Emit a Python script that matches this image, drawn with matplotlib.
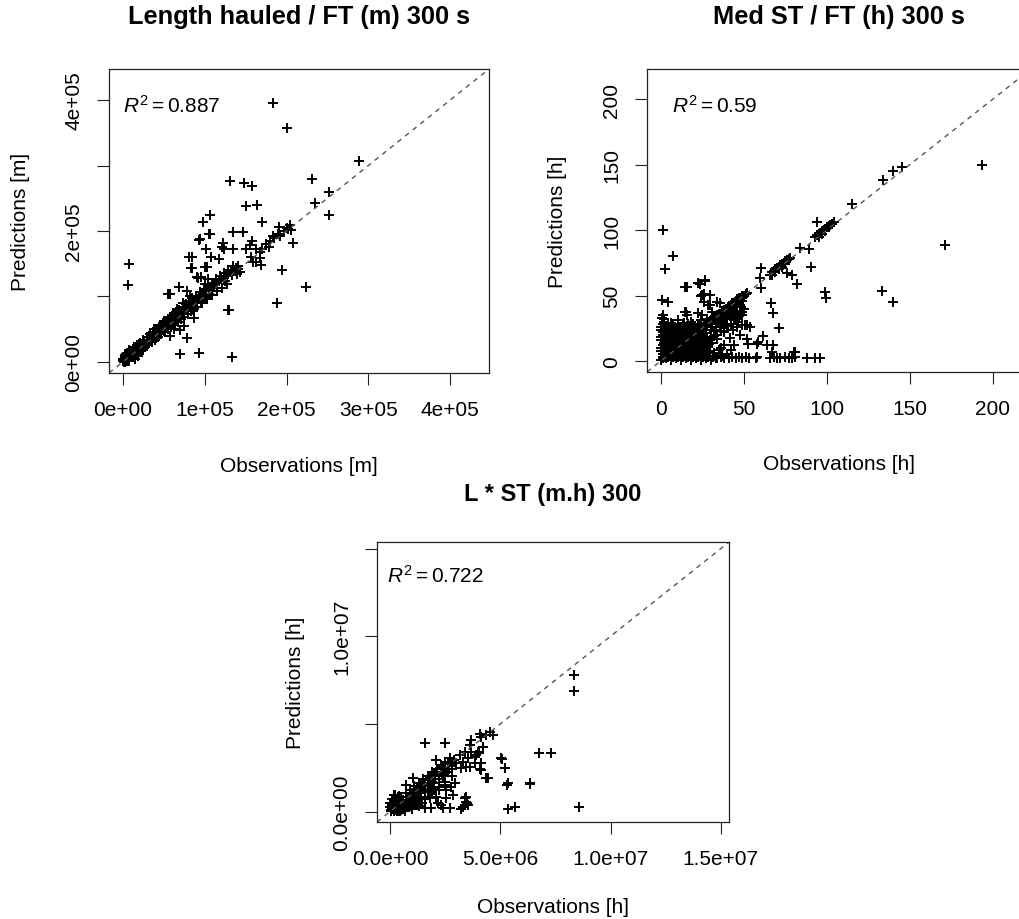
import numpy as np
import matplotlib
matplotlib.use('Agg')
import matplotlib.pyplot as plt

# Fuentes tipo Arial, R en cursiva para el texto R^2
plt.rcParams['font.family'] = ['Liberation Sans', 'DejaVu Sans']
plt.rcParams['mathtext.fontset'] = 'custom'
plt.rcParams['mathtext.rm'] = 'Liberation Sans'
plt.rcParams['mathtext.it'] = 'Liberation Sans:italic'

# ---------------- Longitud arrastrada (km, se pasa a m) ----------------
len_obs_km = [
    0, 1, 2, 3, 4, 5, 6, 7, 8, 9, 10, 11, 12, 13, 14, 15, 16, 17, 18, 19, 20, 22, 24, 26, 28, 30,
    3, 8, 12, 5, 18, 2, 10, 25, 20, 15, 1, 6, 4, 9, 14, 22,
    0, 2, 4, 6, 8, 1, 3, 5, 7,
    32, 34, 36, 38, 40, 42, 44, 46, 48, 50, 52, 54, 56, 58, 60, 62, 64, 66, 68, 70,
    72, 74, 76, 78, 80, 82, 84, 86, 88, 90, 93, 96, 99, 102, 105, 108, 111, 114, 117, 120,
    123, 126, 129, 132, 135, 138, 141,
    5, 9, 13, 17, 21, 25, 29, 33, 37, 41, 45, 49, 53, 57, 61, 65, 69, 73, 77, 81,
    85, 89, 94, 99, 104, 109, 114, 119, 124, 129, 134,
    7, 11, 15, 19, 23, 27, 31, 35, 39, 43, 47, 51, 55, 59, 63, 67, 71, 75, 79, 83,
    87, 91, 97, 103, 109, 115, 121, 127,
    35, 45, 55, 65, 75, 85, 95, 60, 70, 50, 40, 30, 25, 20, 105, 115, 125,
    45, 55, 38, 62, 50, 66, 74, 82,
    141, 143, 139, 133, 175, 180, 185, 192, 197, 202, 178, 189, 200, 206, 208,
    183, 200, 288, 231, 252, 235, 252, 131, 148, 158, 151, 164, 106, 98, 170, 105, 93, 134,
    147, 191, 204, 183, 81, 83, 101, 103, 122, 123, 135, 150, 163, 158, 170, 167, 159, 195,
    224, 188, 130, 8, 6.5, 55, 57, 69, 78, 90, 92, 78, 57, 70, 93, 133, 87, 101,
    94, 106, 84, 85, 100, 108, 118, 121, 95, 100, 104, 128, 62, 70, 75, 155, 157, 167, 169, 163,
]
len_pred_km = [
    2, 0, 4, 1, 6, 3, 9, 5, 7, 12, 8, 14, 10, 16, 11, 13, 19, 15, 21, 17, 18, 24, 22, 30, 26, 33,
    10, 2, 20, 14, 9, 7, 17, 18, 28, 5, 4, 1, 12, 15, 22, 16,
    5, 9, 1, 14, 18, 3, 0, 8, 11,
    34, 38, 37, 42, 41, 46, 45, 50, 49, 54, 53, 58, 57, 62, 63, 65, 67, 70, 71, 74,
    76, 78, 80, 83, 84, 87, 88, 91, 93, 95, 98, 102, 104, 108, 110, 114, 117, 120, 123, 126,
    128, 131, 134, 138, 140, 143, 146,
    12, 16, 21, 25, 29, 33, 38, 42, 46, 50, 55, 59, 63, 67, 72, 76, 80, 84, 89, 93,
    97, 101, 106, 111, 116, 121, 126, 131, 136, 141, 146,
    4, 8, 12, 15, 19, 23, 27, 31, 34, 38, 42, 46, 50, 53, 57, 61, 65, 69, 73, 77,
    81, 84, 90, 96, 102, 108, 113, 119,
    33, 43, 52, 62, 73, 83, 93, 58, 69, 47, 37, 29, 24, 21, 104, 113, 124,
    56, 66, 50, 75, 62, 81, 90, 100,
    142, 137, 135, 132, 180, 185, 190, 193, 200, 203, 176, 196, 204, 201, 182,
    395, 358, 307, 279, 260, 243, 224, 277, 273, 268, 238, 240, 224, 213, 213, 196, 186, 198,
    198, 206, 209, 193, 160, 143, 172, 145, 181, 172, 172, 172, 172, 184, 173, 158, 153, 141,
    114, 90, 80, 150, 118, 103, 104, 114, 109, 130, 128, 36, 40, 12, 14, 7, 67, 99,
    187, 195, 160, 143, 145, 160, 157, 175, 130, 119, 127, 79, 50, 48, 55, 178, 160, 168, 148, 153,
]

# ---------------- Tiempo medio de arrastre (h) ----------------
st_obs = [
    0, 1, 2, 3, 4, 5, 6, 7, 8, 9,
    10, 11, 12, 13, 14, 15, 16, 17, 18, 19,
    20, 21, 22, 23, 24, 25, 26, 27, 28, 29,
    30, 31, 32, 33, 34, 35, 36, 37, 38, 39,
    40, 41, 42, 43, 44, 45, 46, 47, 48, 49,
    50, 51, 52,
    12, 15, 18, 21, 24, 27, 30, 33, 36, 39, 42, 45, 48, 14, 20, 26, 32, 38, 44, 50,
    20, 24, 28, 32, 36, 40, 44, 48, 30, 38, 46,
    31, 33, 35, 37, 39, 41, 43, 45, 47, 49,
    35, 40, 45, 38, 42, 47, 33, 32, 35, 38, 31, 34, 37,
    0, 3, 6, 9, 12, 15, 18, 21, 24, 27, 30, 33,
    1, 4, 7, 10, 13, 16, 19, 22, 25, 28,
    0, 3, 6, 9, 12, 15, 18, 21, 24, 27,
    2, 5, 8, 11, 14, 17, 20, 23, 26, 29,
    0, 3, 6, 9, 12, 15, 18, 21, 24, 28,
    1, 4, 7, 10, 13, 16, 19, 22, 25,
    0, 3, 6, 9, 12, 15, 18, 21, 27,
    2, 6, 10, 14, 18, 24,
    0.5, 1.5, 2,
    1.5, 4.5, 7.5, 10.5, 13.5, 16.5, 19.5, 22.5, 25.5, 28.5, 31.5,
    0, 2.5, 5.5, 8.5, 11.5, 14.5, 17.5, 20.5, 23.5, 26.5, 29.5,
    1, 3.5, 6.5, 9.5, 12.5, 15.5, 18.5, 21.5, 24.5, 27.5,
    0, 3.5, 6.5, 9.5, 12.5, 15.5, 18.5, 21.5, 24.5, 27.5,
    1.5, 4.5, 7.5, 10.5, 13.5, 16.5, 19.5, 22.5, 25.5,
    0, 2.5, 5.5, 8.5, 11.5, 14.5, 17.5, 20.5, 23.5,
    1, 4.5, 7.5, 10.5, 13.5, 16.5, 19.5, 22.5,
    34, 36, 38, 41, 43, 45, 47, 49, 51, 53, 57, 58, 66, 68, 70, 72, 75, 77, 79, 81, 88, 93, 96,
    61.7, 63.7, 66.7, 67.7, 80, 81, 51.6, 52.6, 57.7, 58.7, 45.6, 48.6, 51.6, 53.6,
    43.6, 47.6, 43.6, 45.6, 48.6, 46.6, 29.7, 35.7, 31.7, 35.7, 33.7, 41.7, 15, 24.5,
    27.5, 33.5, 15.7, 17.7, 23.5, 14.5, 22.5, 26.5, 24.5, 29.5, 28.5, 33.5, 0.4, 4.4,
    14.5, 22.5, 30.5, 60.6, 66.4, 67.7, 71, 50.8, 48.8, 42, 44, 40, 38, 36,
    66, 67, 68, 69, 70, 71, 72, 73, 74, 75, 76, 77, 78, 67, 69, 71, 73, 75,
    60, 59.6, 75.7, 78.7, 81.7, 90.7, 83.7, 89.3,
    93, 94, 95, 96, 97, 98, 99, 100, 101, 102, 103, 104, 95, 97, 99, 93.8,
    115, 134, 140, 145, 193.6, 171, 133, 139.6, 99, 99.4,
    1, 7, 2.6, 16, 23.5, 26.7, 24, 26, 25.7,
]
st_pred = [
    1, 2, 3, 4, 4, 6, 7, 8, 8, 10,
    11, 12, 12, 14, 15, 16, 16, 18, 19, 20,
    20, 22, 23, 24, 24, 26, 27, 28, 28, 30,
    31, 32, 32, 34, 35, 36, 36, 38, 39, 40,
    40, 42, 43, 44, 44, 46, 47, 48, 48, 50,
    50, 51, 52,
    7, 10, 12, 15, 18, 21, 24, 26, 29, 32, 35, 38, 41, 6, 12, 18, 23, 28, 33, 40,
    9, 11, 15, 19, 23, 27, 31, 35, 18, 25, 33,
    28, 30, 31, 34, 36, 37, 40, 42, 44, 46,
    30, 33, 38, 22, 28, 34, 24, 6, 8, 12, 14, 17, 4,
    1, 2, 1, 2, 1, 2, 1, 2, 1, 2, 1, 2,
    5, 6, 5, 6, 5, 6, 5, 6, 5, 6,
    10, 9, 10, 9, 10, 9, 10, 9, 10, 9,
    14, 13, 14, 13, 14, 13, 14, 13, 14, 13,
    18, 17, 18, 17, 18, 17, 18, 17, 18, 17,
    22, 21, 22, 21, 22, 21, 22, 21, 22,
    26, 25, 26, 25, 26, 25, 26, 25, 26,
    30, 29, 31, 29, 30, 31,
    33, 35, 32,
    3, 3, 3, 3, 3, 3, 3, 3, 3, 3, 3,
    7.5, 7.5, 7.5, 7.5, 7.5, 7.5, 7.5, 7.5, 7.5, 7.5, 7.5,
    12, 12, 12, 12, 12, 12, 12, 12, 12, 12,
    16, 16, 16, 16, 16, 16, 16, 16, 16, 16,
    20, 20, 20, 20, 20, 20, 20, 20, 20,
    24, 24, 24, 24, 24, 24, 24, 24, 24,
    28, 28, 28, 28, 28, 28, 28, 28,
    2, 3, 2, 2, 3, 2, 3, 2, 3, 2, 2, 3, 2, 3, 2, 2, 3, 2, 2, 3, 2, 2, 2,
    19, 12.2, 7.2, 12.2, 6.8, 7, 16.8, 12.7, 12.7, 14.8, 26, 27.5, 27.5, 26,
    23.7, 19.8, 37.7, 42.7, 37.7, 30, 42.7, 44, 33.9, 27.5, 19.8, 17.3, 37.7, 35,
    32, 30, 35, 27, 27, 56.8, 59.3, 61.8, 50.4, 50.4, 42.7, 45.3, 46.6, 45.3,
    37.7, 36.4, 37.7, 55.5, 44, 36.4, 25, 27.5, 35, 8, 12, 5, 22, 10,
    66, 68, 69, 70, 71, 72, 73, 74, 75, 76, 77, 78, 79, 66, 68, 70, 72, 74,
    71, 63, 67, 65.7, 58.5, 72, 86, 85.5,
    95, 96, 97, 98, 99, 100, 101, 102, 103, 104, 105, 106, 95, 97, 99, 106.4,
    120, 138, 145, 148, 150, 88.5, 53.4, 44.8, 53, 48,
    100, 80, 70.5, 56.5, 58.5, 61, 50, 51, 45,
]

# ---------------- L * ST (millones de m.h) ----------------
lst_obs_M = [
    0.05, 0.1, 0.15, 0.2, 0.25, 0.3, 0.35, 0.4, 0.45, 0.5, 0.55, 0.6, 0.7, 0.75, 0.8,
    0.9, 0.95, 1.0, 1.1, 1.15, 1.2, 1.3, 1.35, 1.4, 1.5, 1.55, 1.6, 1.7, 1.75, 1.8,
    1.9, 2.0, 2.05, 2.1, 2.2, 2.3, 2.35, 2.4, 2.5, 2.6, 2.65, 2.7, 2.8, 2.9, 3.0,
    0.1, 0.3, 0.5, 0.7, 0.9, 1.1, 1.3, 1.5, 1.7, 1.9, 2.1, 2.3, 2.5, 2.7,
    0.4, 0.6, 0.8, 1.0, 1.2, 1.4, 1.6, 1.8, 2.0, 2.2, 2.4, 2.6, 2.8,
    1.0, 1.3, 1.6, 1.9, 2.2, 2.5, 2.8,
    0.0, 0.1, 0.2, 0.0, 0.3, 0.15,
    0.3, 0.6, 0.9, 1.2, 0.5, 0.8, 1.1, 1.4, 1.7, 0.2, 0.4, 0.7, 1.0, 1.3,
    1.6, 1.9, 2.2, 0.1, 0.15, 0.25, 0.35, 0.05, 0.45, 0.65, 0.85, 1.05, 1.25, 1.45,
    0.2, 0.73, 1.03,
    8.33, 8.33, 8.57, 6.75, 7.29, 6.36, 5.35, 5.65, 5.3, 5.05, 5.23, 4.36, 4.09, 3.45,
    3.48, 1.56, 2.5, 3.68, 4.14, 4.51, 4.06, 4.36, 4.66, 3.38, 3.68, 3.15, 3.53, 3.83,
    3.6, 3.83, 4.14, 3.98, 4.21, 3.23, 3.3, 3.45, 4.1, 4.44, 5.01, 5.23, 5.35, 6.33,
    3.38, 3.45, 3.3, 3.53, 2.47, 2.55, 2.77, 2.92, 2.85, 2.55, 2.7, 2.39, 2.16, 1.86,
    1.56, 1.25, 2.09, 1.79, 1.94, 2.09, 2.09, 2.32, 3.6, 4.05, 3.91, 2.29, 3.23,
]
lst_pred_M = [
    0.02, 0.15, 0.05, 0.3, 0.1, 0.35, 0.2, 0.45, 0.3, 0.55, 0.4, 0.65, 0.55, 0.8, 0.6,
    0.95, 0.75, 1.05, 0.9, 1.2, 1.0, 1.35, 1.15, 1.5, 1.3, 1.65, 1.45, 1.8, 1.55, 1.9,
    1.7, 2.1, 1.85, 2.25, 2.0, 2.4, 2.15, 2.55, 2.3, 2.7, 2.45, 2.85, 2.6, 2.95, 2.75,
    0.45, 0.65, 0.85, 1.05, 1.25, 1.45, 1.65, 1.85, 2.05, 2.25, 2.45, 2.65, 2.85, 3.05,
    0.05, 0.25, 0.45, 0.65, 0.85, 1.05, 1.25, 1.45, 1.65, 1.85, 2.05, 2.25, 2.45,
    0.2, 0.5, 0.8, 1.1, 1.4, 1.7, 2.0,
    0.5, 0.7, 0.2, 0.25, 0.6, 0.95,
    0.05, 0.15, 0.3, 0.5, 0.1, 0.35, 0.6, 0.85, 1.1, 0.6, 0.9, 0.25, 0.15, 0.3,
    0.7, 1.0, 1.25, 0.4, 0.7, 0.55, 0.8, 0.1, 0.05, 0.05, 0.55, 0.35, 0.8, 0.5,
    0.94, 1.51, 1.89,
    7.76, 6.85, 0.23, 3.35, 3.35, 1.57, 0.15, 0.23, 1.51, 2.99, 2.5, 1.89, 2.42, 0.8,
    0.47, 3.88, 3.88, 4.07, 4.26, 4.55, 4.45, 4.35, 4.35, 3.41, 3.41, 3.22, 3.03, 3.13,
    2.56, 2.74, 2.74, 3.41, 3.69, 2.46, 2.84, 2.56, 2.36, 1.89, 3.03, 2.46, 1.61, 1.61,
    0.76, 0.57, 0.23, 0.38, 1.51, 1.23, 1.42, 1.61, 0.94, 0.76, 0.19, 0.19, 0.47, 0.19,
    0.19, 0.38, 0.85, 0.76, 1.32, 2.93, 2.27, 2.56, 3.78, 3.31, 3.22, 0.38, 0.15,
]

# R^2 de cada modelo
r2_values = [0.887, 0.59, 0.722]

# Marcas y etiquetas de ejes
len_ticks = [0, 1e5, 2e5, 3e5, 4e5]
len_xlabels = ['0e+00', '1e+05', '2e+05', '3e+05', '4e+05']
len_ylabels = ['0e+00', '', '2e+05', '', '4e+05']
st_ticks = [0, 50, 100, 150, 200]
st_labels = ['0', '50', '100', '150', '200']
lst_ticks = [0, 5e6, 1e7, 1.5e7]
lst_xlabels = ['0.0e+00', '5.0e+06', '1.0e+07', '1.5e+07']
lst_ylabels = ['0.0e+00', '', '1.0e+07', '']


def panel(ax, obs, pred, lim, ticks, xlabels, ylabels, title, title_size,
          xlab, ylab, r2, r2_x):
    ax.plot(obs, pred, '+', color='black', ms=7.5, mew=1.4)
    ax.axline((0, 0), slope=1, color='#555555', lw=1.0, ls=(0, (3.5, 3.5)))
    ax.set_xlim(lim)
    ax.set_ylim(lim)
    ax.set_xticks(ticks)
    ax.set_xticklabels(xlabels)
    ax.set_yticks(ticks)
    ax.set_yticklabels(ylabels, rotation=90, va='center')
    ax.tick_params(direction='out', length=8.6, width=0.8, labelsize=15, color='#222222')
    ax.tick_params(axis='x', pad=11)
    ax.tick_params(axis='y', pad=10)
    for s in ax.spines.values():
        s.set_linewidth(0.9)
        s.set_color('#222222')
    ax.set_xlabel(xlab, fontsize=15, va='center')
    ax.set_ylabel(ylab, fontsize=15, va='center')
    ax.xaxis.set_label_coords(0.5, -0.303)
    ax.yaxis.set_label_coords(-0.232, 0.5)
    ax.text(0.5, 1.175, title, transform=ax.transAxes, ha='center', va='center',
            fontsize=title_size, fontweight='bold')
    ax.text(r2_x, 0.882, r'$R^2 = %s$' % r2, transform=ax.transAxes,
            ha='left', va='center', fontsize=15)


fig = plt.figure(figsize=(10.2, 9.2), dpi=100)
ax1 = fig.add_axes([0.1069, 0.5935, 0.3725, 0.3304])
ax2 = fig.add_axes([0.6343, 0.5946, 0.3765, 0.3293])
ax3 = fig.add_axes([0.3696, 0.1054, 0.3451, 0.3043])

panel(ax1, np.array(len_obs_km) * 1e3, np.array(len_pred_km) * 1e3, (-17000, 447500),
      len_ticks, len_xlabels, len_ylabels, 'Length hauled / FT (m) 300 s', 18.3,
      'Observations [m]', 'Predictions [m]', r2_values[0], 0.037)
panel(ax2, st_obs, st_pred, (-8.4, 223),
      st_ticks, st_labels, st_labels, 'Med ST / FT (h) 300 s', 18.3,
      'Observations [h]', 'Predictions [h]', r2_values[1], 0.064)
panel(ax3, np.array(lst_obs_M) * 1e6, np.array(lst_pred_M) * 1e6, (-0.6e6, 15.37e6),
      lst_ticks, lst_xlabels, lst_ylabels, 'L * ST (m.h) 300', 17,
      'Observations [h]', 'Predictions [h]', r2_values[2], 0.029)

fig.savefig('out.png', dpi=100, facecolor='white')
